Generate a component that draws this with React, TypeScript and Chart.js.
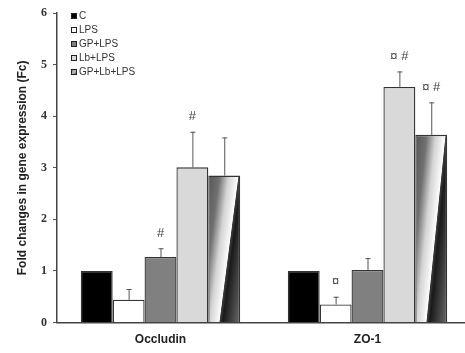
import React, { useEffect, useRef } from "react";
import { Chart, registerables } from "chart.js";
Chart.register(...registerables);

const categories = ["Occludin", "ZO-1"];
const seriesNames = ["C", "LPS", "GP+LPS", "Lb+LPS", "GP+Lb+LPS"];
const valuesC = [1.0, 1.0];
const valuesLPS = [0.44, 0.35];
const valuesGP = [1.27, 1.02];
const valuesLb = [3.01, 4.57];
const valuesGPLb = [2.85, 3.64];
const errorsC = [0, 0];
const errorsLPS = [0.21, 0.15];
const errorsGP = [0.17, 0.23];
const errorsLb = [0.69, 0.3];
const errorsGPLb = [0.74, 0.63];
const marksC = ["", ""];
const marksLPS = ["", "¤"];
const marksGP = ["#", ""];
const marksLb = ["#", "¤ #"];
const marksGPLb = ["", "¤ #"];
const yMin = 0;
const yMax = 6;
const yStep = 1;
const yTitle = "Fold changes in gene expression (Fc)";

const allValues = [valuesC, valuesLPS, valuesGP, valuesLb, valuesGPLb];
const allErrors = [errorsC, errorsLPS, errorsGP, errorsLb, errorsGPLb];
const allMarks = [marksC, marksLPS, marksGP, marksLb, marksGPLb];
const fills = ["#000000", "#ffffff", "#808080", "#d9d9d9", "gradient"];
const CAT_PCT = 0.77;

function makeGradient(ctx: CanvasRenderingContext2D, left: number, top: number, w: number, h: number) {
  if (!(w > 0) || !(h > 0)) return "#999";
  const nx = h, ny = 0.6 * w;
  const len = Math.sqrt(nx * nx + ny * ny);
  const tEnd = (w * h + 0.6 * w * h) / len;
  const x1 = left + (nx / len) * tEnd;
  const y1 = top + (ny / len) * tEnd;
  const g = ctx.createLinearGradient(left, top, x1, y1);
  g.addColorStop(0, "#555555");
  g.addColorStop(0.22, "#707070");
  g.addColorStop(0.4, "#d4d4d4");
  g.addColorStop(0.585, "#fcfcfc");
  g.addColorStop(0.6, "#3a3a3a");
  g.addColorStop(0.66, "#1a1a1a");
  g.addColorStop(1, "#6a6a6a");
  return g;
}

const overlayPlugin = {
  id: "overlay",
  afterDatasetsDraw(chart: any) {
    const ctx = chart.ctx as CanvasRenderingContext2D;
    const ys = chart.scales.y;
    ctx.save();
    allValues.forEach((vals, di) => {
      const meta = chart.getDatasetMeta(di);
      vals.forEach((v, i) => {
        const bar = meta.data[i];
        const err = allErrors[di][i];
        const x = bar.x;
        const topVal = ys.getPixelForValue(v + err);
        if (err > 0) {
          ctx.strokeStyle = "#555";
          ctx.lineWidth = 1;
          ctx.beginPath();
          ctx.moveTo(x + 0.5, bar.y);
          ctx.lineTo(x + 0.5, topVal);
          ctx.moveTo(x - 2, topVal + 0.5);
          ctx.lineTo(x + 3, topVal + 0.5);
          ctx.stroke();
        }
        const mark = allMarks[di][i];
        if (mark) {
          ctx.fillStyle = "#444";
          ctx.font = "13px 'Liberation Sans'";
          ctx.textAlign = "center";
          ctx.textBaseline = "middle";
          ctx.fillText(mark, x, topVal - 15);
        }
      });
    });
    ctx.restore();
  },
  afterDraw(chart: any) {
    const ctx = chart.ctx as CanvasRenderingContext2D;
    ctx.save();
    const sx = 71, sy0 = 16, gap = 14, s = 6;
    seriesNames.forEach((name, i) => {
      const cy = sy0 + i * gap;
      const f = fills[i];
      if (f === "gradient") {
        const g = ctx.createLinearGradient(sx, cy - s / 2, sx + s, cy + s / 2);
        g.addColorStop(0, "#666");
        g.addColorStop(0.5, "#bbb");
        g.addColorStop(1, "#444");
        ctx.fillStyle = g;
      } else {
        ctx.fillStyle = f;
      }
      ctx.fillRect(sx, cy - s / 2, s, s);
      ctx.strokeStyle = "#222";
      ctx.lineWidth = 1;
      ctx.strokeRect(sx + 0.5, cy - s / 2 + 0.5, s - 1, s - 1);
      ctx.fillStyle = "#333";
      ctx.font = "10px 'Liberation Sans'";
      ctx.textAlign = "left";
      ctx.textBaseline = "middle";
      ctx.fillText(name, sx + 8, cy + 0.5);
    });
    ctx.restore();
  },
};

export default function App() {
  const ref = useRef<HTMLCanvasElement | null>(null);
  useEffect(() => {
    if (!ref.current) return;
    const datasets = seriesNames.map((name, di) => ({
      label: name,
      data: allValues[di],
      borderColor: "#333333",
      borderWidth: 1.3,
      backgroundColor:
        fills[di] === "gradient"
          ? (c: any) => {
              if (c.type !== "data") return "#999";
              const chart = c.chart;
              const xs = chart.scales.x;
              const ys = chart.scales.y;
              if (!xs || !ys) return "#999";
              const center = xs.getPixelForValue(c.dataIndex);
              const catW = xs.width / categories.length;
              const barW = (catW * CAT_PCT) / seriesNames.length;
              const left = center + 1.5 * barW;
              const top = ys.getPixelForValue(c.raw);
              const bottom = ys.getPixelForValue(0);
              return makeGradient(chart.ctx, left, top, barW, bottom - top);
            }
          : fills[di],
      barPercentage: 1,
      categoryPercentage: CAT_PCT,
    }));
    const chart = new Chart(ref.current, {
      type: "bar",
      data: { labels: categories, datasets },
      plugins: [overlayPlugin],
      options: {
        animation: false,
        responsive: false,
        devicePixelRatio: 1,
        layout: { padding: { top: 13, left: 0, right: 0, bottom: 0 } },
        plugins: { legend: { display: false }, tooltip: { enabled: false } },
        scales: {
          x: {
            grid: { display: false, drawTicks: false },
            border: { display: true, color: "#444", width: 1.5 },
            ticks: {
              padding: 10,
              color: "#222",
              font: { family: "'Liberation Sans'", size: 12, weight: "bold" },
            },
            afterFit: (scale: any) => {
              scale.height = 30.5;
            },
          },
          y: {
            min: yMin,
            max: yMax,
            ticks: {
              stepSize: yStep,
              padding: 6,
              color: "#333",
              font: { family: "'Liberation Serif'", size: 12, weight: "bold" },
            },
            grid: { drawOnChartArea: false, drawTicks: true, tickLength: 4, color: "#555", lineWidth: 1 },
            border: { display: true, color: "#444", width: 1.5 },
            title: {
              display: true,
              text: yTitle,
              color: "#222",
              padding: { top: 15, bottom: 0 },
              font: { family: "'Liberation Sans'", size: 12, weight: "bold" },
            },
            afterFit: (scale: any) => {
              scale.width = 57;
            },
          },
        },
      } as any,
    });
    return () => chart.destroy();
  }, []);
  return (
    <div style={{ position: "fixed", left: 0, top: 0, width: 465, height: 353, overflow: "hidden", background: "#fff" }}>
      <canvas ref={ref} width={471} height={353} style={{ width: 471, height: 353, display: "block" }} />
    </div>
  );
}
